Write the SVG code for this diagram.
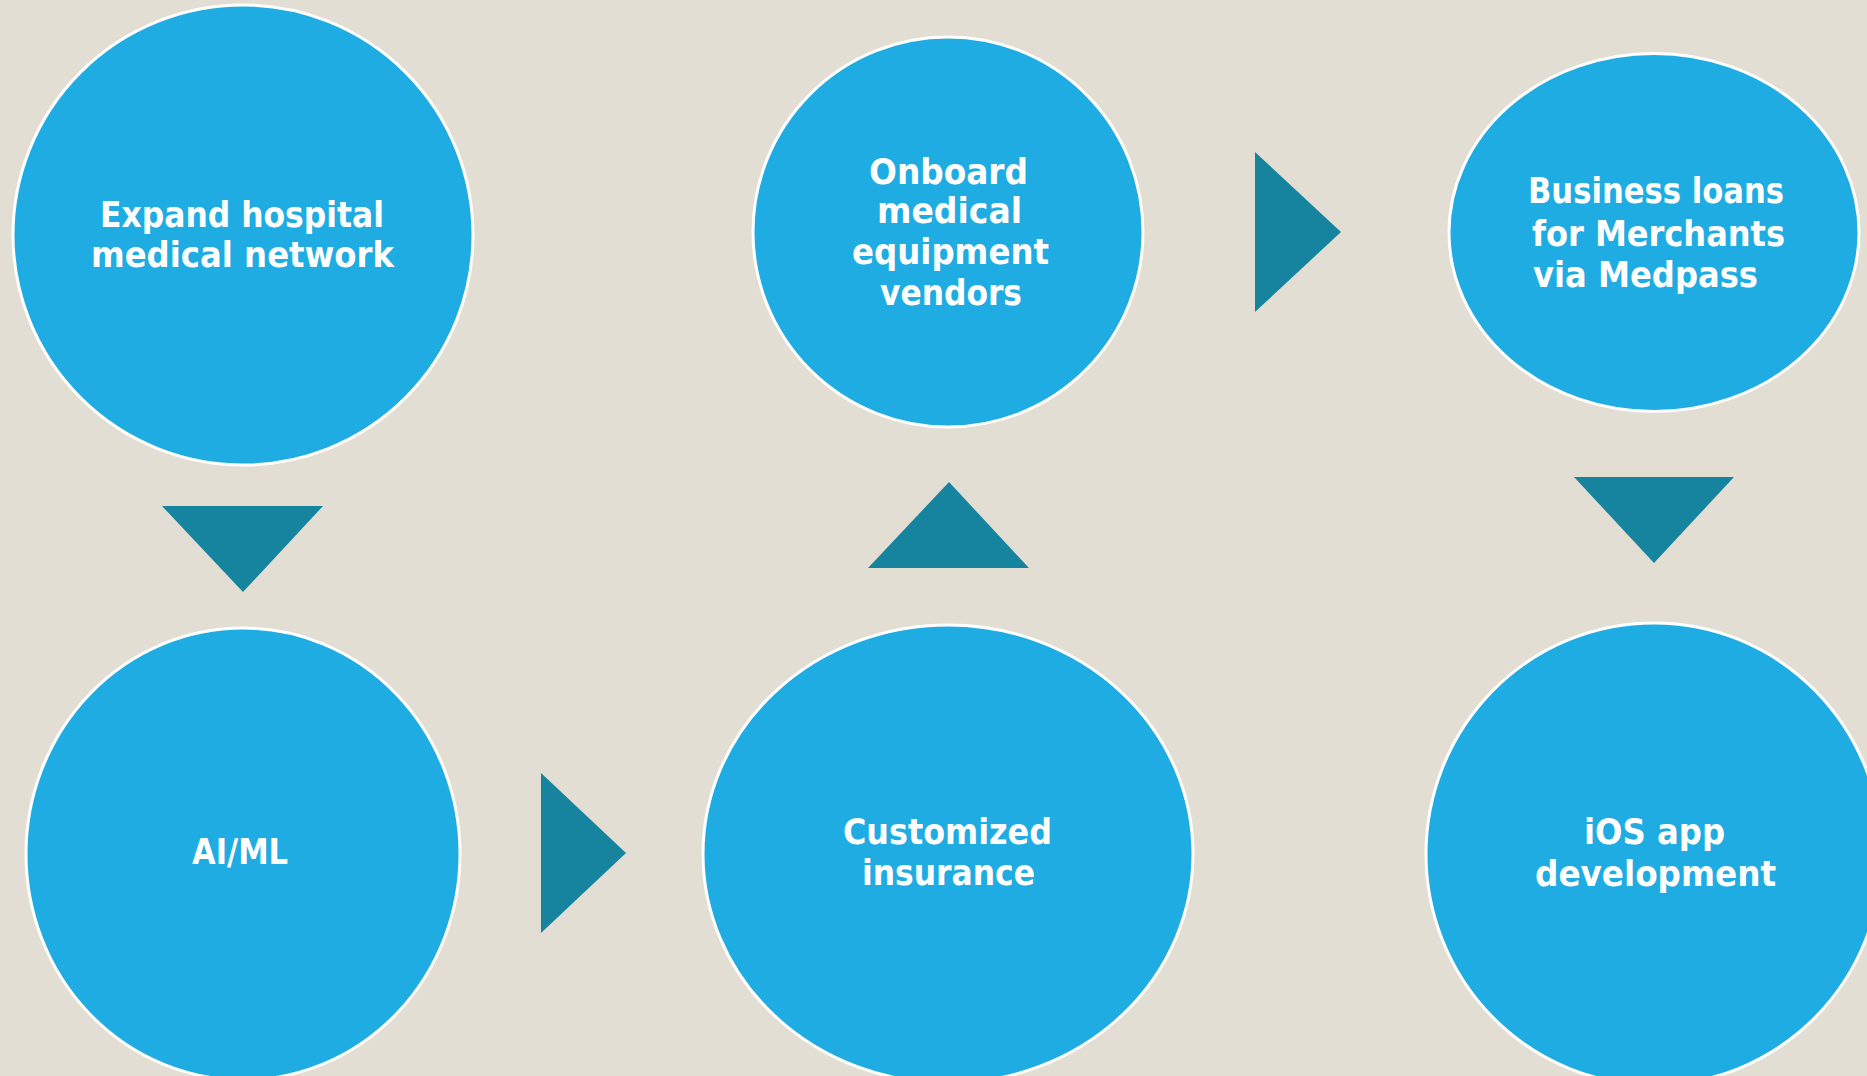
<svg xmlns="http://www.w3.org/2000/svg" width="1867" height="1076" viewBox="0 0 1867 1076">
<style>
.node{fill:#1FACE2;stroke:#FFFFFF;stroke-width:3}
.arrow{fill:#16849F;stroke:none}
.lbl{font-family:"DejaVu Sans","Liberation Sans",sans-serif;font-weight:bold;font-size:36px;fill:#FFFFFF}
</style>
<rect x="0" y="0" width="1867" height="1076" fill="#E3DED3"/>
<g id="connectors">
<polygon class="arrow" points="162,506 323,506 243,592"/>
<polygon class="arrow" points="541,773 541,933 626,853"/>
<polygon class="arrow" points="868,568 1029,568 949,482"/>
<polygon class="arrow" points="1255,152 1255,312 1341,232"/>
<polygon class="arrow" points="1574,477 1734,477 1654,563"/>
</g>
<g id="n1">
<ellipse class="node" cx="243" cy="235" rx="230" ry="230"/>
<text class="lbl" x="100" y="227" textLength="284" lengthAdjust="spacingAndGlyphs">Expand hospital</text>
<text class="lbl" x="91" y="267" textLength="303" lengthAdjust="spacingAndGlyphs">medical network</text>
</g>
<g id="n2">
<ellipse class="node" cx="243" cy="854" rx="217" ry="226"/>
<text class="lbl" x="192" y="864" textLength="96" lengthAdjust="spacingAndGlyphs">AI/ML</text>
</g>
<g id="n3">
<ellipse class="node" cx="948" cy="232" rx="195" ry="195"/>
<text class="lbl" x="869" y="184" textLength="159" lengthAdjust="spacingAndGlyphs">Onboard</text>
<text class="lbl" x="877" y="223" textLength="145" lengthAdjust="spacingAndGlyphs">medical</text>
<text class="lbl" x="852" y="264" textLength="197" lengthAdjust="spacingAndGlyphs">equipment</text>
<text class="lbl" x="880" y="305" textLength="142" lengthAdjust="spacingAndGlyphs">vendors</text>
</g>
<g id="n4">
<ellipse class="node" cx="1654" cy="232.5" rx="205" ry="179"/>
<text class="lbl" x="1528" y="203" textLength="256" lengthAdjust="spacingAndGlyphs">Business loans</text>
<text class="lbl" x="1532" y="246" textLength="253" lengthAdjust="spacingAndGlyphs">for Merchants</text>
<text class="lbl" x="1533" y="287" textLength="225" lengthAdjust="spacingAndGlyphs">via Medpass</text>
</g>
<g id="n5">
<ellipse class="node" cx="948" cy="854" rx="245" ry="229"/>
<text class="lbl" x="843" y="844" textLength="209" lengthAdjust="spacingAndGlyphs">Customized</text>
<text class="lbl" x="862" y="885" textLength="173" lengthAdjust="spacingAndGlyphs">insurance</text>
</g>
<g id="n6">
<ellipse class="node" cx="1654" cy="854" rx="228" ry="231"/>
<text class="lbl" x="1584" y="844" textLength="141" lengthAdjust="spacingAndGlyphs">iOS app</text>
<text class="lbl" x="1535" y="886" textLength="241" lengthAdjust="spacingAndGlyphs">development</text>
</g>
</svg>
